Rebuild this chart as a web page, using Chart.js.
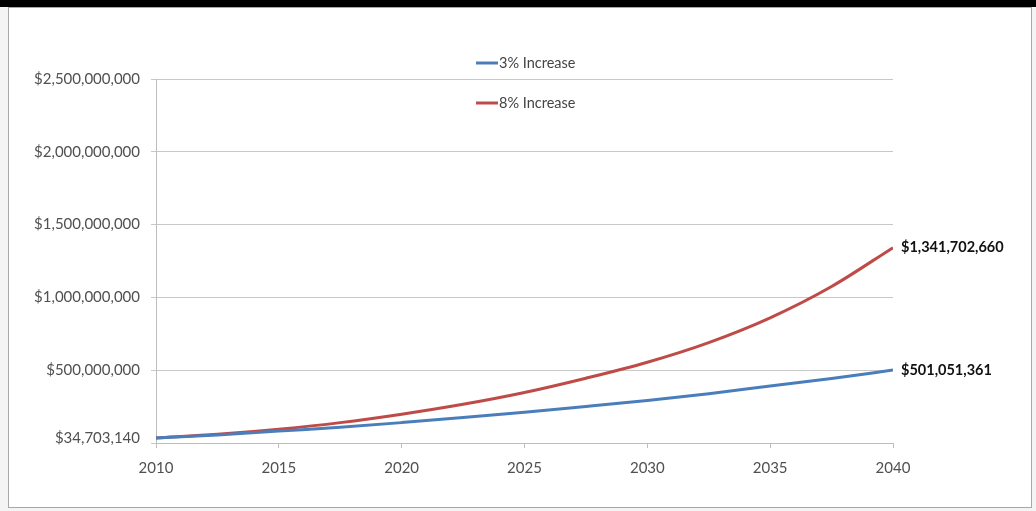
<!DOCTYPE html>
<html>
<head>
<meta charset="utf-8">
<script src="https://cdn.jsdelivr.net/npm/chart.js@4"></script>
<style>
  body { margin: 0; background: #f4f4f4; width: 1036px; height: 511px; overflow: hidden; }
  #topbar { position: absolute; left: 0; top: 0; width: 1036px; height: 7px; background: #000; }
  #frame { position: absolute; left: 8px; top: 7px; width: 1022px; height: 499px; background: #fff;
           border: 1px solid #a8a8a8; }
  canvas { display: block; }
</style>
</head>
<body>
<div id="topbar"></div>
<div id="frame"><canvas id="chart" width="1022" height="499"></canvas></div>
<script>
// Data
const years = [2010, 2012.5, 2015, 2017.5, 2020, 2022.5, 2025, 2027.5, 2030, 2032.5, 2035, 2037.5, 2040];
const increase3 = [34703140, 55000000, 82000000, 108000000, 140000000, 175000000, 212000000,
                   251000000, 292000000, 338000000, 392000000, 443000000, 501051361];
const increase8 = [34703140, 60000000, 95000000, 140000000, 198000000, 266000000, 347000000,
                   445000000, 555000000, 690000000, 860000000, 1075000000, 1341702660];
const seriesLabels = ['3% Increase', '8% Increase'];
const seriesColors = ['#4a7ebb', '#be4b48'];
const yTicks = [0, 500000000, 1000000000, 1500000000, 2000000000, 2500000000];

const FONT = 'Lato, "Open Sans", sans-serif';

function money(v) {
    return '$' + Math.round(v).toLocaleString('en-US');
}

function toPoints(vals) {
    return years.map((y, i) => ({ x: y, y: vals[i] }));
}

// labels at the start / end of the lines and the legend inside the plot
const labelPlugin = {
    id: 'labels',
    afterDatasetsDraw(c) {
        const ctx = c.ctx;
        const xs = c.scales.x, ys = c.scales.y;
        ctx.save();
        ctx.textBaseline = 'middle';

        // start value, shown like a tick label left of the axis
        ctx.font = '15px ' + FONT;
        ctx.fillStyle = '#505050';
        ctx.textAlign = 'right';
        ctx.fillText(money(increase3[0]), c.chartArea.left - 16, ys.getPixelForValue(increase3[0]));

        // end values
        ctx.font = 'bold 14.5px ' + FONT;
        ctx.fillStyle = '#111';
        ctx.textAlign = 'left';
        const xEnd = xs.getPixelForValue(years[years.length - 1]) + 8;
        ctx.fillText(money(increase8[increase8.length - 1]), xEnd, ys.getPixelForValue(increase8[increase8.length - 1]));
        ctx.fillText(money(increase3[increase3.length - 1]), xEnd, ys.getPixelForValue(increase3[increase3.length - 1]));

        // legend
        ctx.font = '14.5px ' + FONT;
        ctx.fillStyle = '#444';
        seriesLabels.forEach((lab, i) => {
            const ly = 55 + i * 40;
            ctx.strokeStyle = seriesColors[i];
            ctx.lineWidth = 3;
            ctx.beginPath();
            ctx.moveTo(467, ly);
            ctx.lineTo(489, ly);
            ctx.stroke();
            ctx.fillText(lab, 490, ly);
        });
        ctx.restore();
    }
};

new Chart(document.getElementById('chart'), {
    type: 'line',
    data: {
        datasets: [
            { label: seriesLabels[0], data: toPoints(increase3), borderColor: seriesColors[0],
              borderWidth: 3, pointRadius: 0, cubicInterpolationMode: 'monotone', fill: false },
            { label: seriesLabels[1], data: toPoints(increase8), borderColor: seriesColors[1],
              borderWidth: 3, pointRadius: 0, cubicInterpolationMode: 'monotone', fill: false }
        ]
    },
    options: {
        responsive: false,
        animation: false,
        layout: { padding: { left: 0, top: 71, right: 138, bottom: 0 } },
        plugins: {
            legend: { display: false },
            tooltip: { enabled: false }
        },
        scales: {
            x: {
                type: 'linear',
                min: 2010,
                max: 2040,
                afterFit: s => { s.height = 64; },
                ticks: { stepSize: 5, padding: 11, color: '#505050', font: { family: FONT, size: 15 },
                         callback: v => String(v) },
                grid: { drawOnChartArea: false, drawTicks: true, tickLength: 5, color: '#bdbdbd' },
                border: { color: '#bdbdbd' }
            },
            y: {
                min: 0,
                max: 2500000000,
                afterFit: s => { s.width = 147; },
                afterBuildTicks: s => { s.ticks = yTicks.map(v => ({ value: v })); },
                ticks: { padding: 11, color: '#505050', font: { family: FONT, size: 15 },
                         callback: v => (v === 0 ? '' : money(v)) },
                grid: { color: '#c8c8c8', tickLength: 5 },
                border: { color: '#bdbdbd' }
            }
        }
    },
    plugins: [labelPlugin]
});
</script>
</body>
</html>
